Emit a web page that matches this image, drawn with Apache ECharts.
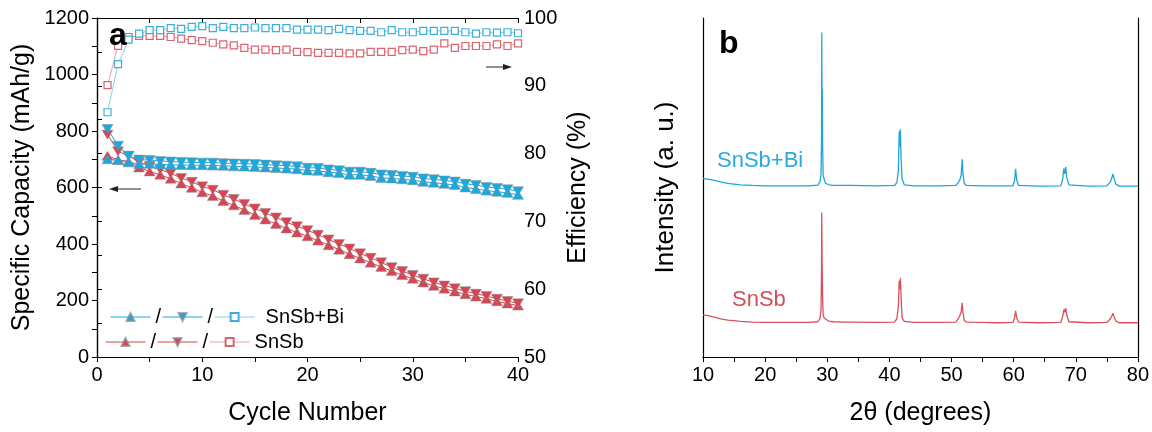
<!DOCTYPE html>
<html><head><meta charset="utf-8">
<script src="https://cdn.jsdelivr.net/npm/echarts@6/dist/echarts.min.js"></script>
<style>html,body{margin:0;padding:0;background:#fff}#c{width:1152px;height:432px}</style>
</head><body><div id="c"></div>
<script>
const cycles = [1,2,3,4,5,6,7,8,9,10,11,12,13,14,15,16,17,18,19,20,21,22,23,24,25,26,27,28,29,30,31,32,33,34,35,36,37,38,39,40];
const biDischarge = [807,748,712,699,697,694,692,690,689,688,688,686,685,684,683,681,679,677,675,670,669,664,661,656,656,652,646,644,641,638,632,629,625,621,613,609,602,598,594,587];
const biCharge    = [700,697,689,683,684,682,680,680,679,679,678,677,675,674,673,671,669,667,665,660,659,654,651,645,645,641,634,632,629,626,620,617,613,609,600,595,589,585,581,574];
const biEff       = [86.1,93.2,96.8,97.7,98.2,98.2,98.5,98.4,98.7,98.8,98.5,98.7,98.5,98.5,98.6,98.5,98.5,98.5,98.3,98.3,98.3,98.2,98.4,98.2,98.1,98.1,97.9,98.2,97.9,97.9,98.1,98.1,98.1,98.1,97.9,97.7,97.9,97.85,97.9,97.75];
const sbDischarge = [787,728,712,690,676,664,650,634,620,604,592,574,559,542,526,510,494,477,463,449,433,416,400,384,367,351,335,318,304,290,277,264,253,243,233,224,216,206,198,190];
const sbCharge    = [712,698,692,671,657,645,631,614,599,583,570,552,537,520,503,487,471,455,441,427,412,396,380,364,349,334,319,304,290,277,264,252,242,232,222,214,206,197,189,182];
const sbEff       = [90.1,95.9,97.2,97.35,97.35,97.35,97.2,96.95,96.75,96.6,96.35,96.1,95.95,95.6,95.35,95.35,95.25,95.35,95.0,94.98,94.87,94.87,94.87,94.77,94.77,95.0,95.0,95.0,95.27,95.35,95.12,95.35,96.26,95.6,95.87,95.87,95.87,96.1,95.87,96.26];

const xrdBi = [[10,52.6],[11,52.4],[12,52.0],[13,51.6],[14,51.2],[15,51.0],[16,50.8],[18,50.6],[20,50.5],[24,50.5],[27,50.5],[28.5,50.7],[28.85,51.8],[29.0,54],[29.08,64],[29.12,95.7],[29.16,70],[29.2,79],[29.26,62],[29.34,53.5],[29.5,52.5],[29.7,51.3],[30.2,50.8],[31,50.6],[33.0,50.6],[33.3,51.0],[33.6,50.6],[38,50.5],[40.8,50.6],[41.2,51.4],[41.45,55],[41.58,66.5],[41.66,62],[41.76,67.2],[41.9,58],[42.05,52.5],[42.4,50.8],[44,50.5],[46.2,50.5],[46.4,50.9],[46.6,50.5],[47.6,50.5],[47.8,50.9],[48.0,50.5],[50.7,50.6],[51.1,51.5],[51.35,52.3],[51.55,53.6],[51.72,58.3],[51.85,54],[52.05,51.2],[52.4,50.6],[55,50.5],[59.9,50.5],[60.15,52],[60.32,55.5],[60.5,52.2],[60.8,50.6],[64,50.4],[67.6,50.5],[67.9,52.5],[68.08,55.6],[68.2,54],[68.38,56],[68.55,53],[68.9,50.8],[72,50.4],[75.0,50.5],[75.4,51.3],[75.65,51.9],[75.82,53],[75.97,54],[76.15,52.8],[76.45,51],[77,50.4],[80,50.4]];
const xrdSb = [[10,12.4],[11,12.1],[12,11.7],[13,11.2],[14,10.9],[15,10.7],[16,10.5],[18,10.3],[20,10.2],[24,10.2],[27,10.2],[28.5,10.4],[28.85,11.5],[29.0,14],[29.08,26],[29.12,42.6],[29.16,30],[29.2,24],[29.26,17],[29.34,12.5],[29.5,11.5],[29.7,11.2],[30.2,10.6],[31,10.4],[32.8,10.3],[33.0,10.7],[33.3,10.3],[38,10.2],[40.8,10.3],[41.2,11.2],[41.45,15],[41.58,22.5],[41.68,20],[41.78,23.2],[41.9,17],[42.05,11.5],[42.4,10.5],[44,10.2],[46.2,10.2],[46.4,10.6],[46.6,10.2],[47.6,10.2],[47.8,10.5],[48.0,10.2],[50.7,10.3],[51.1,11.3],[51.35,12.3],[51.55,13.2],[51.72,16.0],[51.85,13],[52.05,10.8],[52.4,10.3],[55,10.2],[57.2,10.1],[57.4,10.5],[57.6,10.1],[59.9,10.2],[60.15,11.6],[60.32,13.6],[60.5,11.5],[60.8,10.3],[64,10.1],[67.6,10.2],[67.9,12.0],[68.08,14.0],[68.22,13.2],[68.38,14.4],[68.55,12.3],[68.9,10.4],[72,10.1],[75.0,10.2],[75.4,10.9],[75.65,11.3],[75.82,12.1],[75.97,12.9],[76.15,12.0],[76.45,10.6],[77,10.1],[80,10.1]];

const BLUE = '#17A9DF', RED = '#D84452';
const BLUE_L = '#3AB0DA', RED_L = '#DA6470';
const FONT = 'Liberation Sans';
const pair = a => cycles.map((c, i) => [c, a[i]]);
const DOWN = 'path://M0,0L10,0L5,9Z';

const chart = echarts.init(document.getElementById('c'), null, {renderer: 'canvas'});
const axisLine = {show: true, lineStyle: {color: '#000', width: 1.2}};
const lbl = {color: '#000', fontFamily: FONT, fontSize: 20};
const nameStyle = {color: '#000', fontFamily: FONT, fontSize: 25};
const mk = {borderColor: 'rgba(140,140,140,0.7)', borderWidth: 0.7};
const every = step => v => (Math.round(v) % step === 0 ? String(v) : '');
const tickOut = {show: true, inside: false, length: 5, lineStyle: {color: '#000'}};

function capSeries(name, data, color, symbol, z) {
  return {name, type: 'line', xAxisIndex: 0, yAxisIndex: 0, data: pair(data), symbol, symbolSize: [11, 9],
    showSymbol: true, z, lineStyle: {color, width: 1}, itemStyle: Object.assign({color}, mk), animation: false};
}
function effSeries(name, data, color, z) {
  return {name, type: 'line', xAxisIndex: 0, yAxisIndex: 1, data: pair(data), symbol: 'rect', symbolSize: 7,
    z, lineStyle: {color, width: 1, opacity: 0.6}, itemStyle: {color: '#fff', borderColor: color, borderWidth: 1.2}, animation: false};
}

const legendBase = {orient: 'horizontal', itemWidth: 40, itemHeight: 10, itemGap: 1, selectedMode: false,
  lineStyle: {width: 1}, textStyle: {color: '#000', fontFamily: FONT, fontSize: 20}};

chart.setOption({
  animation: false,
  backgroundColor: '#fff',
  grid: [
    {left: 97, right: 634, top: 18, bottom: 75},
    {left: 703, right: 14, top: 18, bottom: 75}
  ],
  legend: [
    Object.assign({}, legendBase, {left: 105, top: 302,
      data: ['Bi-charge', 'Bi-discharge', {name: 'Bi-eff', textStyle: {padding: [0, 0, 0, 6]}}],
      formatter: n => n === 'Bi-eff' ? 'SnSb+Bi' : '/'}),
    Object.assign({}, legendBase, {left: 100, top: 327,
      data: ['Sb-charge', 'Sb-discharge', 'Sb-eff'],
      formatter: n => n === 'Sb-eff' ? 'SnSb' : '/'})
  ],
  xAxis: [
    {gridIndex: 0, type: 'value', min: 0, max: 40, interval: 5, position: 'bottom',
      name: 'Cycle Number', nameLocation: 'middle', nameGap: 44, nameTextStyle: nameStyle,
      axisLine, axisTick: tickOut,
      axisLabel: Object.assign({margin: 8, formatter: every(10)}, lbl), splitLine: {show: false}},
    {gridIndex: 0, type: 'value', min: 0, max: 40, interval: 5, position: 'top',
      axisLine, axisTick: {show: true, inside: true, length: 5, lineStyle: {color: '#000'}},
      axisLabel: {show: false}, splitLine: {show: false}},
    {gridIndex: 1, type: 'value', min: 10, max: 80, interval: 5, position: 'bottom',
      name: '2\u03B8 (degrees)', nameLocation: 'middle', nameGap: 44, nameTextStyle: nameStyle,
      axisLine, axisTick: tickOut,
      axisLabel: Object.assign({margin: 8, formatter: every(10)}, lbl), splitLine: {show: false}},
    {gridIndex: 1, type: 'value', min: 10, max: 80, position: 'top',
      axisLine, axisTick: {show: false}, axisLabel: {show: false}, splitLine: {show: false}}
  ],
  yAxis: [
    {gridIndex: 0, type: 'value', min: 0, max: 1200, interval: 100, position: 'left',
      name: 'Specific Capacity (mAh/g)', nameLocation: 'middle', nameGap: 62, nameTextStyle: nameStyle,
      axisLine, axisTick: tickOut,
      axisLabel: Object.assign({margin: 8, formatter: every(200)}, lbl), splitLine: {show: false}},
    {gridIndex: 0, type: 'value', min: 50, max: 100, interval: 5, position: 'right',
      name: 'Efficiency (%)', nameLocation: 'middle', nameGap: 48, nameTextStyle: nameStyle,
      axisLine, axisTick: tickOut,
      axisLabel: Object.assign({margin: 6, formatter: every(10)}, lbl), splitLine: {show: false}},
    {gridIndex: 1, type: 'value', min: 0, max: 100, position: 'left',
      name: 'Intensity (a. u.)', nameLocation: 'middle', nameGap: 24, nameTextStyle: Object.assign({}, nameStyle, {fontSize: 26}),
      axisLine, axisTick: {show: false}, axisLabel: {show: false}, splitLine: {show: false}},
    {gridIndex: 1, type: 'value', min: 0, max: 100, position: 'right',
      axisLine, axisTick: {show: false}, axisLabel: {show: false}, splitLine: {show: false}}
  ],
  series: [
    effSeries('Sb-eff', sbEff, RED_L, 3),
    effSeries('Bi-eff', biEff, BLUE_L, 4),
    capSeries('Sb-charge', sbCharge, RED, 'triangle', 5),
    capSeries('Sb-discharge', sbDischarge, RED, DOWN, 6),
    capSeries('Bi-charge', biCharge, BLUE, 'triangle', 7),
    capSeries('Bi-discharge', biDischarge, BLUE, DOWN, 8),
    {name: 'xrd-Bi', type: 'line', xAxisIndex: 2, yAxisIndex: 2, data: xrdBi, showSymbol: false, symbol: 'none',
      lineStyle: {color: '#1EA6DA', width: 1.3}, animation: false},
    {name: 'xrd-Sb', type: 'line', xAxisIndex: 2, yAxisIndex: 2, data: xrdSb, showSymbol: false, symbol: 'none',
      lineStyle: {color: '#D8505D', width: 1.3}, animation: false}
  ],
  graphic: [
    {type: 'text', left: 109, top: 20, style: {text: 'a', font: 'bold 32px "Liberation Sans"', fill: '#000'}, z: 100},
    {type: 'text', left: 719, top: 28, style: {text: 'b', font: 'bold 32px "Liberation Sans"', fill: '#000'}, z: 100},
    {type: 'line', shape: {x1: 116, y1: 189, x2: 141, y2: 189}, style: {stroke: '#222', lineWidth: 1}, z: 100},
    {type: 'polygon', shape: {points: [[109, 189], [118, 186], [118, 192]]}, style: {fill: '#222'}, z: 100},
    {type: 'line', shape: {x1: 486, y1: 67, x2: 505, y2: 67}, style: {stroke: '#222', lineWidth: 1}, z: 100},
    {type: 'polygon', shape: {points: [[512, 67], [503, 64], [503, 70]]}, style: {fill: '#222'}, z: 100},
    {type: 'text', left: 717, top: 150, style: {text: 'SnSb+Bi', font: '22px "Liberation Sans"', fill: '#2AAAE0'}, z: 100},
    {type: 'text', left: 732, top: 289, style: {text: 'SnSb', font: '22px "Liberation Sans"', fill: '#D24E5C'}, z: 100}
  ]
});
</script></body></html>
